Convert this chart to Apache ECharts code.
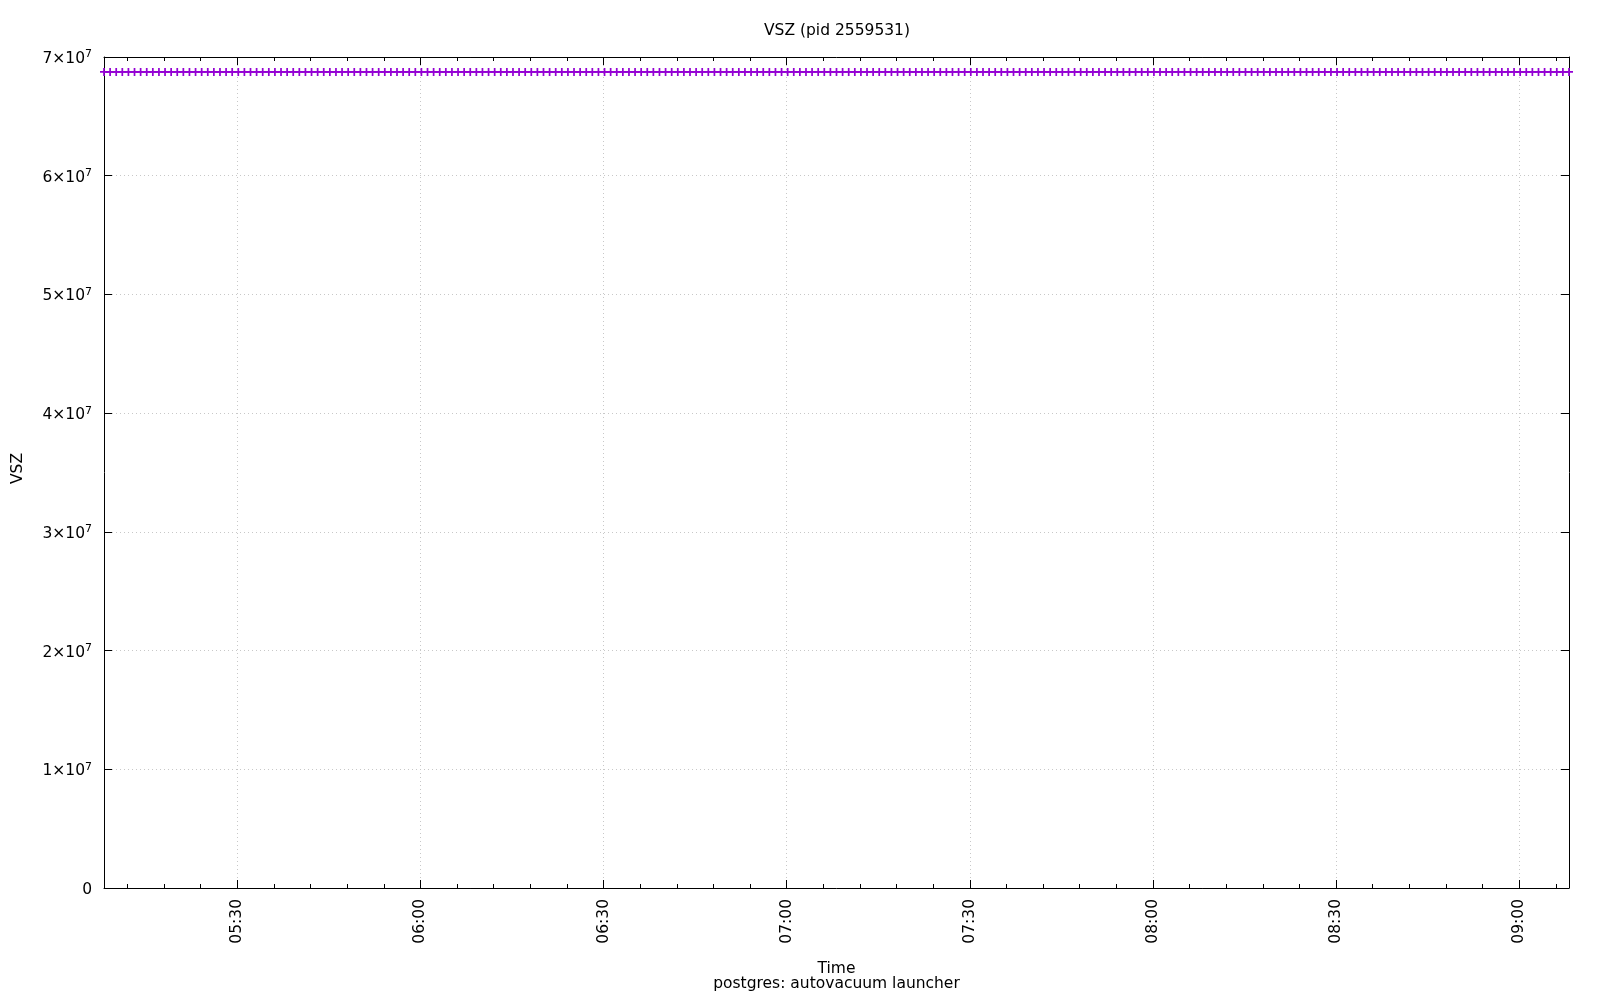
<!DOCTYPE html>
<html><head><meta charset="utf-8">
<script src="https://cdn.jsdelivr.net/npm/echarts@6/dist/echarts.min.js"></script>
<style>html,body{margin:0;padding:0;background:#fff}#c{width:1600px;height:1000px}</style>
</head><body><div id="c"></div>
<script>
const titleText = 'VSZ (pid 2559531)';
const xName = 'Time';
const subName = 'postgres: autovacuum launcher';
const yName = 'VSZ';

const times = [
"05:08:10","05:09:10","05:10:10","05:11:10","05:12:10","05:13:10","05:14:10","05:15:10","05:16:10","05:17:10","05:18:10","05:19:10",
"05:20:10","05:21:10","05:22:10","05:23:10","05:24:10","05:25:10","05:26:10","05:27:10","05:28:10","05:29:10",
"05:30:10","05:31:10","05:32:10","05:33:10","05:34:10","05:35:10","05:36:10","05:37:10","05:38:10","05:39:10",
"05:40:10","05:41:10","05:42:10","05:43:10","05:44:10","05:45:10","05:46:10","05:47:10","05:48:10","05:49:10",
"05:50:10","05:51:10","05:52:10","05:53:10","05:54:10","05:55:10","05:56:10","05:57:10","05:58:10","05:59:10",
"06:00:10","06:01:10","06:02:10","06:03:10","06:04:10","06:05:10","06:06:10","06:07:10","06:08:10","06:09:10",
"06:10:10","06:11:10","06:12:10","06:13:10","06:14:10","06:15:10","06:16:10","06:17:10","06:18:10","06:19:10",
"06:20:10","06:21:10","06:22:10","06:23:10","06:24:10","06:25:10","06:26:10","06:27:10","06:28:10","06:29:10",
"06:30:10","06:31:10","06:32:10","06:33:10","06:34:10","06:35:10","06:36:10","06:37:10","06:38:10","06:39:10",
"06:40:10","06:41:10","06:42:10","06:43:10","06:44:10","06:45:10","06:46:10","06:47:10","06:48:10","06:49:10",
"06:50:10","06:51:10","06:52:10","06:53:10","06:54:10","06:55:10","06:56:10","06:57:10","06:58:10","06:59:10",
"07:00:10","07:01:10","07:02:10","07:03:10","07:04:10","07:05:10","07:06:10","07:07:10","07:08:10","07:09:10",
"07:10:10","07:11:10","07:12:10","07:13:10","07:14:10","07:15:10","07:16:10","07:17:10","07:18:10","07:19:10",
"07:20:10","07:21:10","07:22:10","07:23:10","07:24:10","07:25:10","07:26:10","07:27:10","07:28:10","07:29:10",
"07:30:10","07:31:10","07:32:10","07:33:10","07:34:10","07:35:10","07:36:10","07:37:10","07:38:10","07:39:10",
"07:40:10","07:41:10","07:42:10","07:43:10","07:44:10","07:45:10","07:46:10","07:47:10","07:48:10","07:49:10",
"07:50:10","07:51:10","07:52:10","07:53:10","07:54:10","07:55:10","07:56:10","07:57:10","07:58:10","07:59:10",
"08:00:10","08:01:10","08:02:10","08:03:10","08:04:10","08:05:10","08:06:10","08:07:10","08:08:10","08:09:10",
"08:10:10","08:11:10","08:12:10","08:13:10","08:14:10","08:15:10","08:16:10","08:17:10","08:18:10","08:19:10",
"08:20:10","08:21:10","08:22:10","08:23:10","08:24:10","08:25:10","08:26:10","08:27:10","08:28:10","08:29:10",
"08:30:10","08:31:10","08:32:10","08:33:10","08:34:10","08:35:10","08:36:10","08:37:10","08:38:10","08:39:10",
"08:40:10","08:41:10","08:42:10","08:43:10","08:44:10","08:45:10","08:46:10","08:47:10","08:48:10","08:49:10",
"08:50:10","08:51:10","08:52:10","08:53:10","08:54:10","08:55:10","08:56:10","08:57:10","08:58:10","08:59:10",
"09:00:10","09:01:10","09:02:10","09:03:10","09:04:10","09:05:10","09:06:10","09:07:10","09:08:10"
];

const vsz = [
68740000,68740000,68740000,68740000,68740000,68740000,68740000,68740000,68740000,68740000,
68740000,68740000,68740000,68740000,68740000,68740000,68740000,68740000,68740000,68740000,
68740000,68740000,68740000,68740000,68740000,68740000,68740000,68740000,68740000,68740000,
68740000,68740000,68740000,68740000,68740000,68740000,68740000,68740000,68740000,68740000,
68740000,68740000,68740000,68740000,68740000,68740000,68740000,68740000,68740000,68740000,
68740000,68740000,68740000,68740000,68740000,68740000,68740000,68740000,68740000,68740000,
68740000,68740000,68740000,68740000,68740000,68740000,68740000,68740000,68740000,68740000,
68740000,68740000,68740000,68740000,68740000,68740000,68740000,68740000,68740000,68740000,
68740000,68740000,68740000,68740000,68740000,68740000,68740000,68740000,68740000,68740000,
68740000,68740000,68740000,68740000,68740000,68740000,68740000,68740000,68740000,68740000,
68740000,68740000,68740000,68740000,68740000,68740000,68740000,68740000,68740000,68740000,
68740000,68740000,68740000,68740000,68740000,68740000,68740000,68740000,68740000,68740000,
68740000,68740000,68740000,68740000,68740000,68740000,68740000,68740000,68740000,68740000,
68740000,68740000,68740000,68740000,68740000,68740000,68740000,68740000,68740000,68740000,
68740000,68740000,68740000,68740000,68740000,68740000,68740000,68740000,68740000,68740000,
68740000,68740000,68740000,68740000,68740000,68740000,68740000,68740000,68740000,68740000,
68740000,68740000,68740000,68740000,68740000,68740000,68740000,68740000,68740000,68740000,
68740000,68740000,68740000,68740000,68740000,68740000,68740000,68740000,68740000,68740000,
68740000,68740000,68740000,68740000,68740000,68740000,68740000,68740000,68740000,68740000,
68740000,68740000,68740000,68740000,68740000,68740000,68740000,68740000,68740000,68740000,
68740000,68740000,68740000,68740000,68740000,68740000,68740000,68740000,68740000,68740000,
68740000,68740000,68740000,68740000,68740000,68740000,68740000,68740000,68740000,68740000,
68740000,68740000,68740000,68740000,68740000,68740000,68740000,68740000,68740000,68740000,
68740000,68740000,68740000,68740000,68740000,68740000,68740000,68740000,68740000,68740000,
68740000
];

const majorTickLabels = ['05:30','06:00','06:30','07:00','07:30','08:00','08:30','09:00'];
const minorTickLabels = [
'05:12','05:18','05:24','05:30','05:36','05:42','05:48','05:54',
'06:00','06:06','06:12','06:18','06:24','06:30','06:36','06:42','06:48','06:54',
'07:00','07:06','07:12','07:18','07:24','07:30','07:36','07:42','07:48','07:54',
'08:00','08:06','08:12','08:18','08:24','08:30','08:36','08:42','08:48','08:54',
'09:00','09:06'
];
const yTicks = [0,10000000,20000000,30000000,40000000,50000000,60000000,70000000];
const yTickMantissa = ['0','1','2','3','4','5','6','7'];
const yTickExponent = '7';

function toSec(s){ const p = s.split(':').map(Number); return p[0]*3600 + p[1]*60 + (p[2]||0); }
function fmt(v){ const h = Math.floor(v/3600), m = Math.round((v%3600)/60); return String(h).padStart(2,'0')+':'+String(m).padStart(2,'0'); }

const FONT = 'DejaVu Sans';
const FS = 15.5;
const xMin = toSec(times[0]);
const xMax = toSec(times[times.length-1]);
const majorVals = majorTickLabels.map(toSec);
const minorVals = minorTickLabels.map(toSec);
const seriesData = times.map((t,i)=>[toSec(t), vsz[i]]);

const black = '#000';
const lineAx = {show:true, lineStyle:{color:black, width:1}};
function xAx(pos, vals, len, opts){
  return Object.assign({
    type:'value', position:pos, min:xMin, max:xMax, gridIndex:0,
    axisLine:{show:false}, axisLabel:{show:false}, splitLine:{show:false},
    axisTick:{show:true, inside:true, length:len, customValues:vals, lineStyle:{color:black,width:1}}
  }, opts||{});
}

const option = {
  animation:false,
  backgroundColor:'#fff',
  title:{
    text:titleText, left:837, top:23, textAlign:'center', padding:0,
    textStyle:{fontFamily:FONT, fontSize:FS, fontWeight:'normal', color:black, lineHeight:16}
  },
  grid:{left:104, right:31, top:57, bottom:112, containLabel:false},
  xAxis:[
    xAx('bottom', majorVals, 8, {
      axisLine:lineAx,
      name: xName + '\n' + subName, nameLocation:'middle', nameGap:73,
      nameTextStyle:{fontFamily:FONT, fontSize:FS, color:black, lineHeight:15.6, align:'center'},
      axisLabel:{show:true, rotate:90, margin:11, customValues:majorVals, formatter:fmt,
        fontFamily:FONT, fontSize:FS, color:black},
      splitLine:{show:true, lineStyle:{color:'#c8c8c8', width:1, type:[1,3]}}
    }),
    xAx('bottom', minorVals, 4),
    xAx('top', majorVals, 8, {axisLine:lineAx}),
    xAx('top', minorVals, 4)
  ],
  yAxis:[
    {type:'value', position:'left', min:0, max:70000000, interval:10000000,
      axisLine:lineAx,
      axisTick:{show:true, inside:true, length:8, lineStyle:{color:black}},
      axisLabel:{show:true, margin:12, padding:[4,0,0,0], fontFamily:FONT, fontSize:FS, color:black,
        formatter:(v)=>{
          const i = yTicks.indexOf(v);
          if (i < 0) return '';
          if (v === 0) return '{b|0}';
          return '{b|' + yTickMantissa[i] + '×10}{s|' + yTickExponent + '}';
        },
        rich:{
          b:{fontFamily:FONT, fontSize:FS, color:black, lineHeight:20, verticalAlign:'middle'},
          s:{fontFamily:FONT, fontSize:11, color:black, lineHeight:11, verticalAlign:'top'}
        }
      },
      splitLine:{show:true, lineStyle:{color:'#c8c8c8', width:1, type:[1,3]}},
      name:yName, nameLocation:'middle', nameGap:78,
      nameTextStyle:{fontFamily:FONT, fontSize:FS, color:black, padding:[0,0,0,8]}
    },
    {type:'value', position:'right', min:0, max:70000000, interval:10000000,
      axisLine:lineAx,
      axisTick:{show:true, inside:true, length:8, lineStyle:{color:black}},
      axisLabel:{show:false}, splitLine:{show:false}
    }
  ],
  series:[{
    type:'line', xAxisIndex:0, yAxisIndex:0, data:seriesData,
    showAllSymbol:true, clip:false,
    symbol:'path://M5.5,0h3v5.5h5.5v3h-5.5v5.5h-3v-5.5h-5.5v-3h5.5z', symbolSize:8,
    lineStyle:{color:'#9400d3', width:1.5},
    itemStyle:{color:'#9400d3'},
    emphasis:{disabled:true}
  }]
};
const chart = echarts.init(document.getElementById('c'), null, {renderer:'canvas'});
chart.setOption(option);
</script></body></html>
